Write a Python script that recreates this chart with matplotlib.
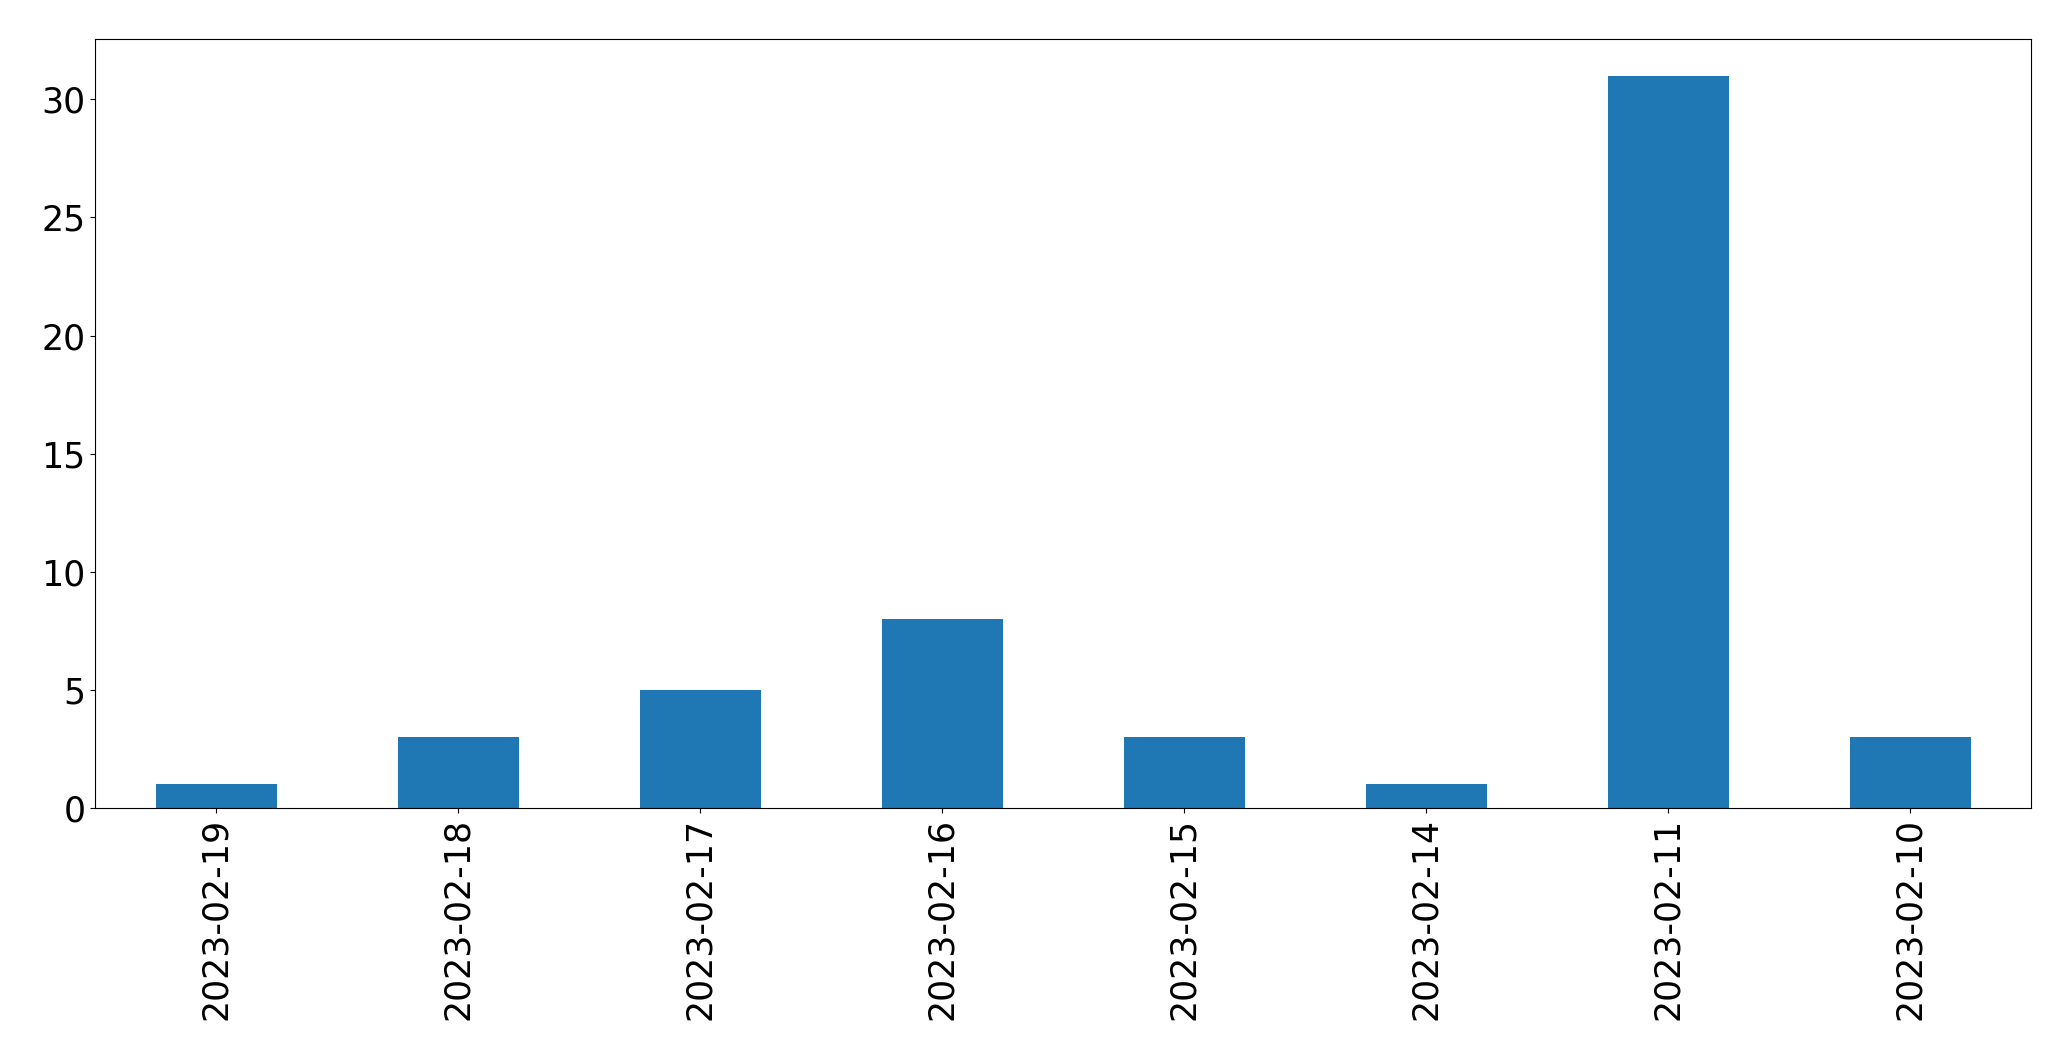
import matplotlib
matplotlib.use("Agg")
import matplotlib.pyplot as plt
import pandas as pd

dates = ['2023-02-19', '2023-02-18', '2023-02-17', '2023-02-16',
         '2023-02-15', '2023-02-14', '2023-02-11', '2023-02-10']
counts = [1, 3, 5, 8, 3, 1, 31, 3]

s = pd.Series(counts, index=dates)

fig = plt.figure(figsize=(20.71, 10.61), dpi=100)
ax = fig.add_subplot(111)
s.plot(kind='bar', ax=ax, color='#1f77b4', fontsize=25)
ax.set_yticks([0, 5, 10, 15, 20, 25, 30])
plt.subplots_adjust(left=0.0459, right=0.9807, top=0.9632, bottom=0.2385)
fig.savefig('out.png', dpi=100)
